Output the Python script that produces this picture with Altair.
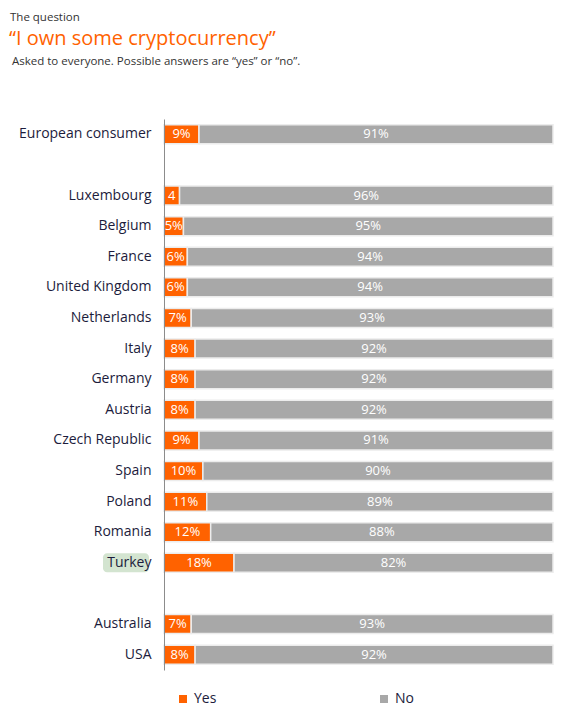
import altair as alt
import pandas as pd

# rows in the order drawn (blank names make the gaps)
row_order = ["European consumer", " ", "Luxembourg", "Belgium", "France",
             "United Kingdom", "Netherlands", "Italy", "Germany", "Austria",
             "Czech Republic", "Spain", "Poland", "Romania", "Turkey", "  ",
             "Australia", "USA"]

countries = ["European consumer", "Luxembourg", "Belgium", "France",
             "United Kingdom", "Netherlands", "Italy", "Germany", "Austria",
             "Czech Republic", "Spain", "Poland", "Romania", "Turkey",
             "Australia", "USA"]
yes_pct = [9, 4, 5, 6, 6, 7, 8, 8, 8, 9, 10, 11, 12, 18, 7, 8]
no_pct = [91, 96, 95, 94, 94, 93, 92, 92, 92, 91, 90, 89, 88, 82, 93, 92]
yes_labels = ["9%", "4", "5%", "6%", "6%", "7%", "8%", "8%", "8%", "9%",
              "10%", "11%", "12%", "18%", "7%", "8%"]
no_labels = ["91%", "96%", "95%", "94%", "94%", "93%", "92%", "92%", "92%",
             "91%", "90%", "89%", "88%", "82%", "93%", "92%"]

answers = ["Yes", "No"]
answer_colors = ["#ff6200", "#a8a8a8"]
highlight = ["Turkey"]

headings = ["The question", "\u201cI own some cryptocurrency\u201d",
            "Asked to everyone. Possible answers are \u201cyes\u201d or \u201cno\u201d."]

rows = []
for c, y, n, yl, nl in zip(countries, yes_pct, no_pct, yes_labels, no_labels):
    rows.append({"country": c, "answer": "Yes", "idx": 0, "value": y, "label": yl})
    rows.append({"country": c, "answer": "No", "idx": 1, "value": n, "label": nl})
df = pd.DataFrame(rows)

y_enc = alt.Y(
    "country:N",
    scale=alt.Scale(domain=row_order, paddingInner=0.38, paddingOuter=0.19),
    axis=alt.Axis(title=None, ticks=False, labelPadding=13, labelFontSize=14,
                  labelColor="#1c1c3c", domainColor="#8c8c8c", labelLimit=200,
                  zindex=1),
)

base = (
    alt.Chart(df)
    .transform_stack(stack="value", groupby=["country"], as_=["x0", "x1"],
                     sort=[alt.SortField("idx")])
    .transform_calculate(mid="(datum.x0 + datum.x1) / 2")
)

bars = base.mark_bar(stroke="#ececec", strokeWidth=1.5).encode(
    x=alt.X("x0:Q", scale=alt.Scale(domain=[0, 100], nice=False), axis=None),
    x2="x1:Q",
    y=y_enc,
    color=alt.Color(
        "answer:N",
        scale=alt.Scale(domain=answers, range=answer_colors),
        legend=alt.Legend(title=None, orient="none", legendX=12, legendY=573,
                          direction="horizontal", symbolType="square",
                          symbolSize=64, labelFontSize=14, labelColor="#1c1c3c",
                          columnPadding=160, symbolStrokeWidth=0),
    ),
)

labels = base.mark_text(color="white", fontSize=13).encode(
    x="mid:Q",
    y="country:N",
    text="label:N",
)

hl = (
    alt.Chart(pd.DataFrame({"country": highlight}))
    .mark_rect(color="#d3e4d0", cornerRadius=4)
    .encode(x=alt.value(-61), x2=alt.value(-15), y="country:N")
)

def heading(text, size, color, x, y):
    return (
        alt.Chart(pd.DataFrame({"t": [text]}))
        .mark_text(align="left", baseline="middle", fontSize=size, color=color)
        .encode(x=alt.value(x), y=alt.value(y), text="t:N")
    )

h1 = heading(headings[0], 11.5, "#333333", -154, -101)
h2 = heading(headings[1], 20, "#ff6200", -155, -80)
h3 = heading(headings[2], 11.5, "#333333", -152, -57)

chart = (
    alt.layer(hl, bars, labels, h1, h2, h3)
    .properties(
        width=389,
        height=551,
        autosize=alt.AutoSizeParams(type="none"),
        padding={"left": 156, "top": 111, "right": 20, "bottom": 40},
    )
    .configure(font="Open Sans")
    .configure_view(stroke=None)
)

chart.save("out.html", embed_options={"renderer": "svg", "actions": False})
